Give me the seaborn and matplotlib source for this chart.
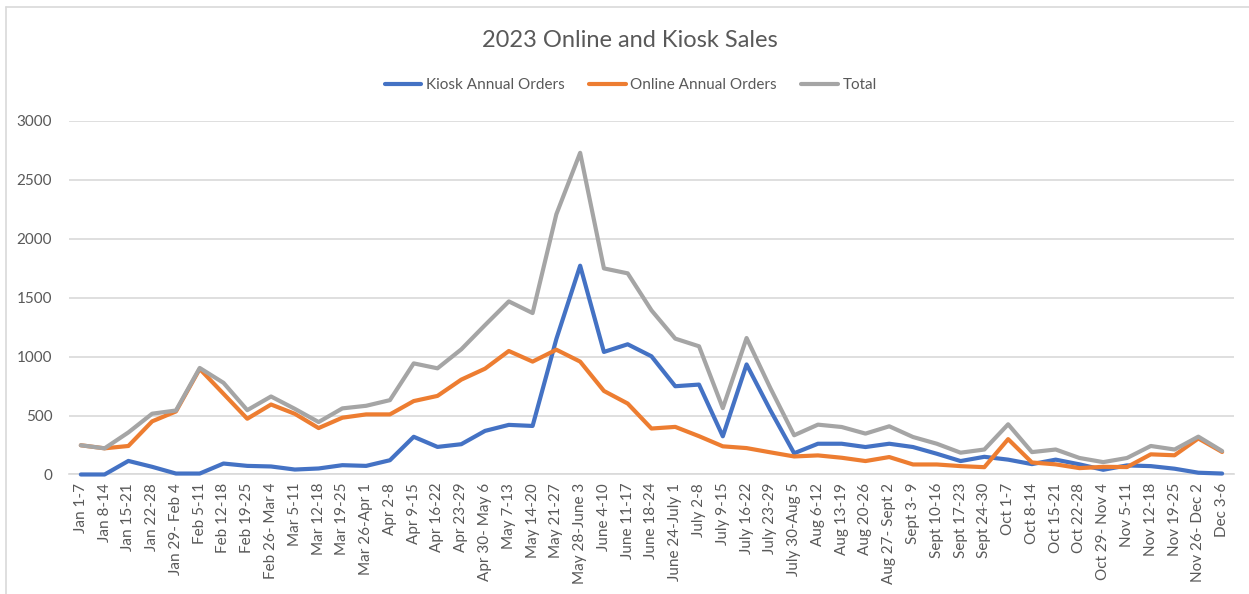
import numpy as np
import pandas as pd
import matplotlib
matplotlib.use("Agg")
import matplotlib.pyplot as plt
import seaborn as sns

# ----------------------------------------------------------------------
# Weekly order counts
# ----------------------------------------------------------------------
WEEKS = [
    "Jan 1-7", "Jan 8-14", "Jan 15-21", "Jan 22-28", "Jan 29- Feb 4",
    "Feb 5-11", "Feb 12-18", "Feb 19-25", "Feb 26- Mar 4", "Mar 5-11",
    "Mar 12-18", "Mar 19-25", "Mar 26-Apr 1", "Apr 2-8", "Apr 9-15",
    "Apr 16-22", "Apr 23-29", "Apr 30- May 6", "May 7-13", "May 14-20",
    "May 21-27", "May 28-June 3", "June 4-10", "June 11-17", "June 18-24",
    "June 24-July 1", "July 2-8", "July 9-15", "July 16-22", "July 23-29",
    "July 30-Aug 5", "Aug 6-12", "Aug 13-19", "Aug 20-26", "Aug 27- Sept 2",
    "Sept 3- 9", "Sept 10-16", "Sept 17-23", "Sept 24-30", "Oct 1-7",
    "Oct 8-14", "Oct 15-21", "Oct 22-28", "Oct 29- Nov 4", "Nov 5-11",
    "Nov 12-18", "Nov 19-25", "Nov 26- Dec 2", "Dec 3-6",
]

kiosk = [
    0, 0, 115, 65, 8, 8, 93, 73, 68, 42,
    51, 79, 73, 121, 320, 234, 257, 370, 421, 412,
    1150, 1772, 1040, 1105, 1003, 749, 763, 324, 934, 545,
    180, 261, 261, 233, 261, 233, 176, 114, 150, 126,
    88, 126, 86, 40, 77, 71, 49, 15, 8,
]

online = [
    248, 222, 242, 451, 535, 896, 685, 473, 594, 515,
    394, 482, 510, 510, 623, 667, 805, 898, 1048, 958,
    1059, 958, 709, 602, 390, 404, 325, 239, 224, 188,
    153, 162, 142, 114, 148, 85, 85, 71, 62, 300,
    102, 86, 54, 65, 63, 171, 163, 306, 191,
]

total = [
    248, 222, 357, 516, 543, 904, 778, 546, 662, 557,
    445, 561, 583, 631, 943, 901, 1062, 1268, 1469, 1370,
    2209, 2730, 1749, 1707, 1393, 1153, 1088, 563, 1158, 733,
    333, 423, 403, 347, 409, 318, 261, 185, 212, 426,
    190, 212, 140, 105, 140, 242, 212, 321, 199,
]

SERIES = ["Kiosk Annual Orders", "Online Annual Orders", "Total"]
COLORS = ["#4472C4", "#ED7D31", "#A5A5A5"]

week_idx = np.arange(len(WEEKS))
df = pd.concat([
    pd.DataFrame({"week": week_idx, "orders": kiosk, "series": SERIES[0]}),
    pd.DataFrame({"week": week_idx, "orders": online, "series": SERIES[1]}),
    pd.DataFrame({"week": week_idx, "orders": total, "series": SERIES[2]}),
], ignore_index=True)

# ----------------------------------------------------------------------
# Plot
# ----------------------------------------------------------------------
sns.set_style("white")
plt.rcParams["font.family"] = ["Lato", "DejaVu Sans"]
TEXT = "#595959"
GRID = "#D9D9D9"

fig = plt.figure(figsize=(12.49, 5.94), dpi=100)
ax = fig.add_axes([0.0552, 0.2012, 0.9328, 0.5951])

sns.lineplot(data=df, x="week", y="orders", hue="series",
             hue_order=SERIES, palette=COLORS, linewidth=3.0,
             legend=False, ax=ax)
for ln in ax.lines:
    ln.set_solid_capstyle("round")
    ln.set_solid_joinstyle("round")
    ln.set_clip_on(False)
    ln.set_zorder(3)

ax.set_xlim(-0.5, len(WEEKS) - 0.5)
ax.set_ylim(0, 3000)
ax.set_yticks(range(0, 3001, 500))
ax.set_xticks(week_idx)
ax.set_xticklabels(WEEKS, rotation=90)
ax.set_xlabel("")
ax.set_ylabel("")
ax.tick_params(axis="both", length=0, labelsize=11, labelcolor=TEXT)
ax.tick_params(axis="x", pad=6)
ax.tick_params(axis="y", pad=12)

ax.grid(axis="y", color=GRID, linewidth=1.2)
ax.set_axisbelow(True)
for side in ["left", "right", "top"]:
    ax.spines[side].set_visible(False)
ax.spines["bottom"].set_color(GRID)
ax.spines["bottom"].set_linewidth(1.2)
ax.spines["bottom"].set_zorder(1)

fig.text(0.504, 0.932, "2023 Online and Kiosk Sales", ha="center",
         va="center", fontsize=17, color=TEXT)

handles = [plt.Line2D([], [], color=c, linewidth=3.0, solid_capstyle="round")
           for c in COLORS]
fig.legend(handles, SERIES, loc="center", bbox_to_anchor=(0.505, 0.857),
           ncol=3, frameon=False, fontsize=11, labelcolor=TEXT,
           handlelength=2.4, handletextpad=0.3, columnspacing=1.6)

# chart-area border (left and top edges visible in the reference)
fig.add_artist(plt.Line2D([6 / 1249, 6 / 1249], [0, 1 - 7 / 594],
                          transform=fig.transFigure, color=GRID, linewidth=1.2))
fig.add_artist(plt.Line2D([6 / 1249, 1], [1 - 7 / 594, 1 - 7 / 594],
                          transform=fig.transFigure, color=GRID, linewidth=1.2))

fig.savefig("out.png", dpi=100, facecolor="white")
